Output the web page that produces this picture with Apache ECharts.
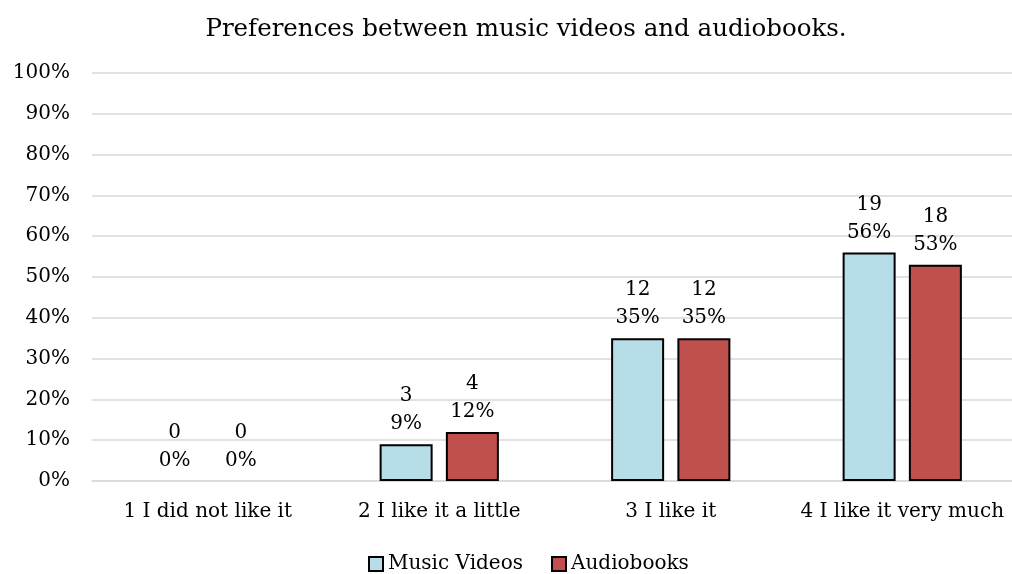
<!DOCTYPE html>
<html>
<head>
<meta charset="utf-8">
<script src="https://cdn.jsdelivr.net/npm/echarts@6/dist/echarts.min.js"></script>
<style>
  html, body { margin: 0; padding: 0; background: #ffffff; }
  #chart { width: 1012px; height: 574px; }
</style>
</head>
<body>
<div id="chart"></div>
<script>
// Response scale categories
const categories = ['1 I did not like it', '2 I like it a little', '3 I like it', '4 I like it very much'];

// Number of respondents per answer
const musicVideoCounts = [0, 3, 12, 19];
const audiobookCounts = [0, 4, 12, 18];

// Share of respondents per answer (%)
const musicVideoPercents = [0, 9, 35, 56];
const audiobookPercents = [0, 12, 35, 53];

// Value axis tick labels
const yTicks = ['0%', '10%', '20%', '30%', '40%', '50%', '60%', '70%', '80%', '90%', '100%'];

const FONT = 'DejaVu Serif';

function labelFor(counts) {
  return {
    show: true,
    position: 'top',
    distance: 6,
    color: '#000',
    fontFamily: FONT,
    fontSize: 20,
    lineHeight: 28,
    formatter: p => counts[p.dataIndex] + '\n' + p.value + '%'
  };
}

// Empty answers get no outline so nothing shows on the baseline
function barData(values) {
  return values.map(v => v === 0 ? { value: v, itemStyle: { borderWidth: 0 } } : v);
}

const chart = echarts.init(document.getElementById('chart'), null, { renderer: 'canvas' });
chart.setOption({
  animation: false,
  backgroundColor: '#ffffff',
  textStyle: { fontFamily: FONT },
  title: {
    text: 'Preferences between music videos and audiobooks.',
    left: 521,
    textAlign: 'center',
    top: 12,
    textStyle: { fontFamily: FONT, fontSize: 24.5, fontWeight: 'normal', color: '#000' }
  },
  legend: {
    bottom: -5,
    left: 363,
    itemWidth: 14,
    itemHeight: 14,
    itemGap: 28,
    icon: 'rect',
    textStyle: { fontFamily: FONT, fontSize: 20, color: '#000' },
    data: ['Music Videos', 'Audiobooks']
  },
  grid: {
    left: 92, width: 926, top: 73, bottom: 93,
    containLabel: false, outerBoundsMode: 'none'
  },
  xAxis: {
    type: 'category',
    data: categories,
    axisLine: { show: true, lineStyle: { color: '#d9d9d9', width: 1.5 } },
    axisTick: { show: false },
    axisLabel: { color: '#000', fontFamily: FONT, fontSize: 20, margin: 21, interval: 0 }
  },
  yAxis: {
    type: 'value',
    min: 0,
    max: 100,
    interval: 10,
    axisLine: { show: false },
    axisTick: { show: false },
    splitLine: { lineStyle: { color: '#d9d9d9', width: 1.5 } },
    axisLabel: {
      color: '#000', fontFamily: FONT, fontSize: 20, margin: 22,
      formatter: v => yTicks[Math.round(v / 10)]
    }
  },
  series: [
    {
      name: 'Music Videos',
      type: 'bar',
      data: barData(musicVideoPercents),
      barWidth: 53,
      barGap: '25%',
      itemStyle: { color: '#b7dee8', borderColor: '#000', borderWidth: 2 },
      label: labelFor(musicVideoCounts)
    },
    {
      name: 'Audiobooks',
      type: 'bar',
      data: barData(audiobookPercents),
      barWidth: 53,
      itemStyle: { color: '#c0504d', borderColor: '#000', borderWidth: 2 },
      label: labelFor(audiobookCounts)
    }
  ]
});
</script>
</body>
</html>
